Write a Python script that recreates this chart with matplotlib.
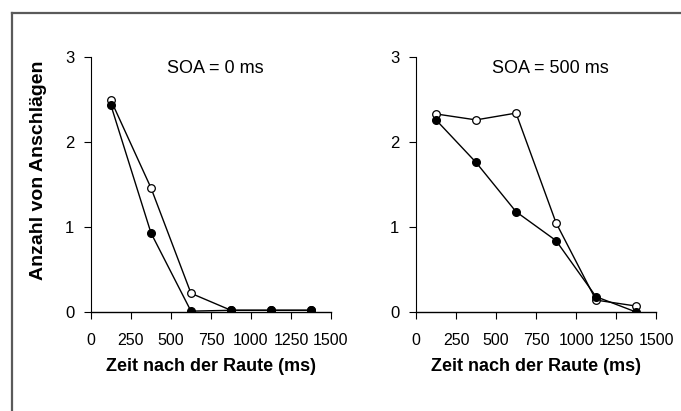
import matplotlib.pyplot as plt
from matplotlib.lines import Line2D

plt.rcParams["font.family"] = ["Liberation Sans", "DejaVu Sans"]

# time bins (ms)
zeit = [125, 375, 625, 875, 1125, 1375]

# SOA = 0 ms
soa0_offen = [2.49, 1.46, 0.22, 0.02, 0.02, 0.02]
soa0_voll = [2.43, 0.93, 0.01, 0.02, 0.02, 0.02]

# SOA = 500 ms
soa500_offen = [2.33, 2.26, 2.34, 1.05, 0.14, 0.07]
soa500_voll = [2.26, 1.76, 1.18, 0.84, 0.18, 0.0]

panels = [
    ("SOA = 0 ms", soa0_offen, soa0_voll, 0.1336),
    ("SOA = 500 ms", soa500_offen, soa500_voll, 0.6109),
]

x_ticks = [0, 250, 500, 750, 1000, 1250, 1500]

fig = plt.figure(figsize=(6.81, 4.11), dpi=100)

# outer frame (only left and top visible in the picture)
fig.add_artist(Line2D([12 / 681, 12 / 681], [0, 1 - 13 / 411],
                      transform=fig.transFigure, color="#5a5a5a", lw=1.6))
fig.add_artist(Line2D([12 / 681, 1], [1 - 13 / 411, 1 - 13 / 411],
                      transform=fig.transFigure, color="#5a5a5a", lw=1.6))

for i, (title, offen, voll, x0) in enumerate(panels):
    ax = fig.add_axes([x0, 0.2409, 0.3524, 0.6204])

    ax.plot(zeit, offen, "-o", color="black", lw=1,
            markerfacecolor="white", markeredgecolor="black",
            markersize=5.5, markeredgewidth=0.9, zorder=3)
    ax.plot(zeit, voll, "-o", color="black", lw=1,
            markerfacecolor="black", markeredgecolor="black",
            markersize=5.5, zorder=4)

    ax.set_xlim(0, 1500)
    ax.set_ylim(0, 3)
    ax.set_xticks(x_ticks)
    ax.set_yticks([0, 1, 2, 3])
    ax.set_xticklabels([str(t) for t in x_ticks],
                       family=["Liberation Sans Narrow", "Liberation Sans"],
                       fontsize=11.5)
    ax.tick_params(axis="y", labelsize=12, direction="out", length=5,
                   width=0.8, pad=7)
    ax.tick_params(axis="x", direction="out", length=5, width=0.8, pad=10)

    for side in ["top", "right"]:
        ax.spines[side].set_visible(False)
    ax.spines["left"].set_linewidth(0.8)
    ax.spines["bottom"].set_linewidth(1.0)

    ax.text(0.318, 0.955, title, transform=ax.transAxes,
            ha="left", va="center", fontsize=13)
    ax.set_xlabel("Zeit nach der Raute (ms)", fontsize=13,
                  fontweight="bold", labelpad=7)
    ax.patch.set_alpha(0)

    if i == 0:
        ax.set_ylabel("Anzahl von Anschlägen", fontsize=14,
                      fontweight="bold")
        ax.yaxis.set_label_coords(-0.184, 0.557)

fig.savefig("out.png", dpi=100, facecolor="white")
